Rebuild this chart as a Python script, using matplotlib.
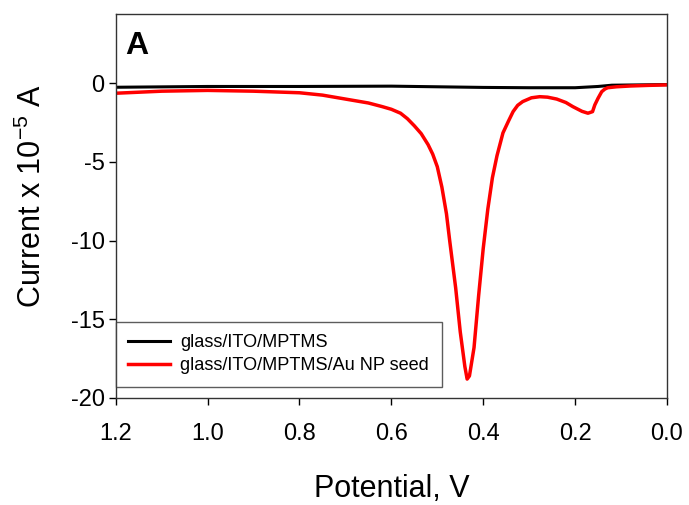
import matplotlib.pyplot as plt

# potential (V) and current (x 1e-5 A)
v_red = [1.20, 1.10, 1.00, 0.90, 0.80, 0.75, 0.70, 0.65, 0.62, 0.60, 0.58, 0.565,
         0.55, 0.535, 0.52, 0.51, 0.50, 0.49, 0.48, 0.473, 0.46, 0.45, 0.44, 0.435,
         0.43, 0.42, 0.41, 0.40, 0.39, 0.38, 0.37, 0.357, 0.345, 0.335, 0.325, 0.314,
         0.295, 0.277, 0.26, 0.24, 0.22, 0.205, 0.185, 0.172, 0.162, 0.157, 0.15,
         0.142, 0.135, 0.129, 0.11, 0.08, 0.04, 0.00]
i_red = [-0.63, -0.50, -0.45, -0.50, -0.60, -0.75, -1.00, -1.25, -1.48, -1.65, -1.90, -2.25,
         -2.70, -3.20, -3.90, -4.50, -5.30, -6.60, -8.30, -10.0, -13.0, -15.8, -18.0, -18.8,
         -18.6, -16.8, -13.5, -10.5, -8.0, -6.0, -4.6, -3.15, -2.4, -1.8, -1.4, -1.16,
         -0.92, -0.85, -0.88, -1.0, -1.22, -1.48, -1.78, -1.90, -1.80, -1.37, -0.95,
         -0.53, -0.36, -0.28, -0.22, -0.17, -0.13, -0.10]

v_black = [1.20, 1.00, 0.80, 0.60, 0.50, 0.40, 0.30, 0.20, 0.15, 0.12, 0.00]
i_black = [-0.25, -0.20, -0.20, -0.18, -0.22, -0.26, -0.28, -0.28, -0.20, -0.12, -0.08]

labels = ['glass/ITO/MPTMS', 'glass/ITO/MPTMS/Au NP seed']
xticks = [1.2, 1.0, 0.8, 0.6, 0.4, 0.2, 0.0]
yticks = [0, -5, -10, -15, -20]

plt.rcParams['font.family'] = ['Liberation Sans', 'DejaVu Sans']
plt.rcParams['axes.unicode_minus'] = False
plt.rcParams['mathtext.fontset'] = 'custom'
plt.rcParams['mathtext.rm'] = 'Liberation Sans'

fig = plt.figure(figsize=(6.89, 5.05), dpi=100)
ax = fig.add_axes([0.168, 0.212, 0.800, 0.761])

ax.plot(v_black, i_black, color='black', lw=2.2, label=labels[0])
ax.plot(v_red, i_red, color='#ff0000', lw=2.5, label=labels[1])

ax.set_xlim(1.2, 0.0)
ax.set_ylim(-20, 4.43)
ax.set_xticks(xticks)
ax.set_xticklabels(['%.1f' % t for t in xticks])
ax.set_yticks(yticks)
ax.set_yticklabels(['%d' % t for t in yticks])
ax.tick_params(direction='out', length=5, width=1, labelsize=17, colors='black')
ax.tick_params(axis='x', pad=13)
ax.tick_params(axis='y', pad=3)
for s in ax.spines.values():
    s.set_linewidth(1.0)
    s.set_color('#333333')

ax.set_xlabel('Potential, V', fontsize=22, labelpad=21)
ax.set_ylabel('Current x 10$^{\\mathregular{-5}}$ A', fontsize=22)
ax.yaxis.set_label_coords(-0.123, 0.525)

ax.text(0.018, 0.955, 'A', transform=ax.transAxes, fontsize=23, fontweight='bold',
        va='top', ha='left')

leg = ax.legend(loc='lower left', bbox_to_anchor=(0.0, 0.029), fontsize=13.1,
                frameon=True, fancybox=False, borderaxespad=0,
                handlelength=2.3, handletextpad=0.55,
                borderpad=0.7, labelspacing=0.32)
leg.get_frame().set_edgecolor('#333333')
leg.get_frame().set_linewidth(1.0)

fig.savefig('out.png', dpi=100)
